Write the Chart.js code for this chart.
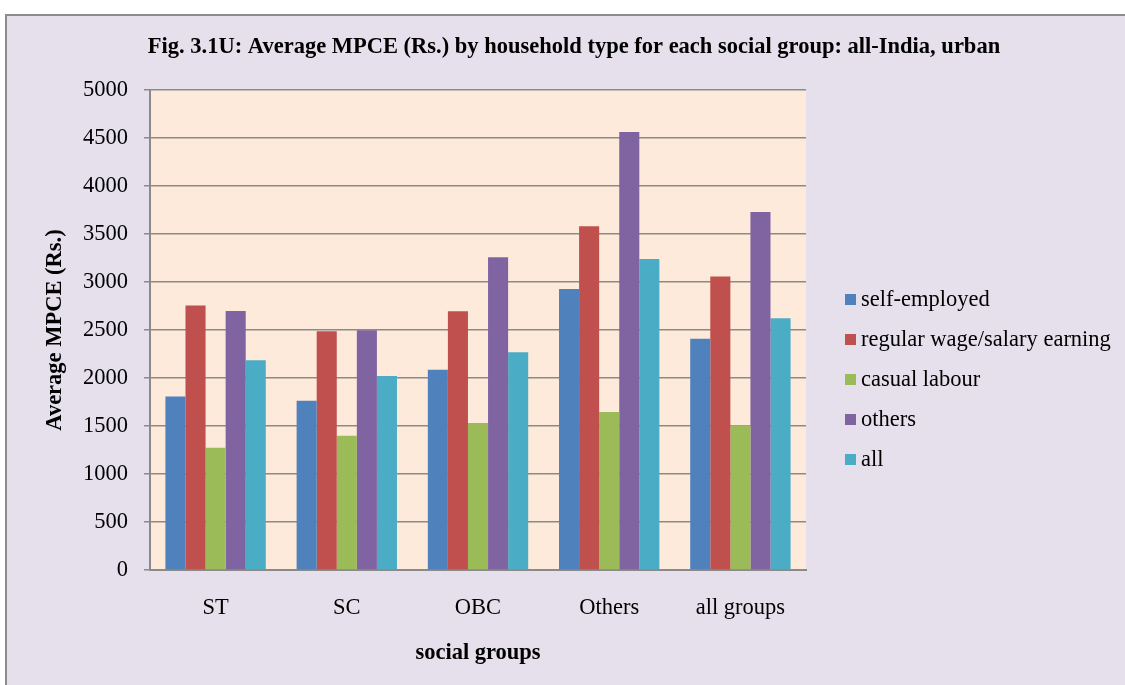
<!DOCTYPE html>
<html>
<head>
<meta charset="utf-8">
<script src="https://cdn.jsdelivr.net/npm/chart.js@4/dist/chart.umd.min.js"></script>
<style>
  html, body { margin: 0; padding: 0; background: #ffffff; }
  #wrap { width: 1125px; height: 685px; position: relative; }
</style>
</head>
<body>
<div id="wrap"><canvas id="c" width="1125" height="685"></canvas></div>
<script>
const chartTitle = 'Fig. 3.1U: Average MPCE (Rs.) by household type for each social group: all-India, urban';
const categories = ['ST', 'SC', 'OBC', 'Others', 'all groups'];
const seriesNames = ['self-employed', 'regular wage/salary earning', 'casual labour', 'others', 'all'];
const selfEmployed = [1807, 1762, 2085, 2928, 2408];
const regularWage = [2754, 2488, 2696, 3581, 3056];
const casualLabour = [1273, 1398, 1530, 1645, 1509];
const othersType = [2699, 2498, 3258, 4562, 3730];
const allTypes = [2186, 2022, 2269, 3240, 2623];
const yTicks = [0, 500, 1000, 1500, 2000, 2500, 3000, 3500, 4000, 4500, 5000];
const xAxisTitle = 'social groups';
const yAxisTitle = 'Average MPCE (Rs.)';

const colors = ['#4F81BD', '#C0504D', '#9BBB59', '#8064A2', '#4BACC6'];
const seriesValues = [selfEmployed, regularWage, casualLabour, othersType, allTypes];
const FONT = "'Liberation Serif', 'Times New Roman', serif";
const FS = 22.5;

const bgPlugin = {
  id: 'bgPlugin',
  beforeDraw(chart) {
    const ctx = chart.ctx;
    const a = chart.chartArea;
    ctx.save();
    ctx.fillStyle = '#ffffff';
    ctx.fillRect(0, 0, chart.width, chart.height);
    ctx.fillStyle = '#E5E0EC';
    ctx.fillRect(6, 15, chart.width - 6, chart.height - 15);
    ctx.strokeStyle = '#8c8c8c';
    ctx.lineWidth = 2;
    ctx.beginPath();
    ctx.moveTo(6, chart.height + 5);
    ctx.lineTo(6, 15);
    ctx.lineTo(chart.width + 5, 15);
    ctx.stroke();
    ctx.fillStyle = '#FDEADA';
    ctx.fillRect(a.left, a.top, a.right - a.left, a.bottom - a.top);
    ctx.restore();
  }
};

const textPlugin = {
  id: 'textPlugin',
  afterDraw(chart) {
    const ctx = chart.ctx;
    ctx.save();
    ctx.fillStyle = '#000000';
    ctx.font = 'bold ' + FS + 'px ' + FONT;
    ctx.textAlign = 'center';
    ctx.textBaseline = 'middle';
    ctx.fillText(chartTitle, 574, 47);
    // legend
    ctx.font = FS + 'px ' + FONT;
    ctx.textAlign = 'left';
    chart.data.datasets.forEach((ds, i) => {
      const cy = 299 + i * 40;
      ctx.fillStyle = ds.backgroundColor;
      ctx.fillRect(845, cy - 5, 11, 11);
      ctx.fillStyle = '#000000';
      ctx.fillText(ds.label, 861, cy + 1);
    });
    ctx.restore();
  }
};

new Chart(document.getElementById('c'), {
  type: 'bar',
  data: {
    labels: categories,
    datasets: seriesNames.map((name, i) => ({
      label: name,
      data: seriesValues[i],
      backgroundColor: colors[i],
      borderWidth: 0,
      categoryPercentage: 0.765,
      barPercentage: 1.0
    }))
  },
  options: {
    responsive: false,
    animation: false,
    devicePixelRatio: 1,
    layout: { padding: { top: 90, right: 319, left: 0, bottom: 0 } },
    plugins: {
      legend: { display: false },
      title: { display: false },
      tooltip: { enabled: false }
    },
    scales: {
      x: {
        grid: { display: false, drawTicks: false },
        border: { display: true, color: '#8a8a8a', width: 2 },
        ticks: { color: '#000', font: { family: FONT, size: FS }, padding: 25, maxRotation: 0 },
        title: { display: true, text: xAxisTitle, color: '#000', font: { family: FONT, size: FS, weight: 'bold' }, padding: { top: 0, bottom: 18 } },
        afterFit(scale) { scale.height = 115; }
      },
      y: {
        min: 0,
        max: 5000,
        afterBuildTicks(scale) { scale.ticks = yTicks.map(v => ({ value: v })); },
        grid: { color: '#8a8a8a', lineWidth: 1.5, tickLength: 6, drawTicks: true },
        border: { display: true, color: '#8a8a8a', width: 2 },
        ticks: { color: '#000', font: { family: FONT, size: FS }, padding: 16, callback: v => String(v) },
        title: { display: true, text: yAxisTitle, color: '#000', font: { family: FONT, size: FS, weight: 'bold' }, padding: { top: 42, bottom: 0 } },
        afterFit(scale) { scale.width = 150; }
      }
    }
  },
  plugins: [bgPlugin, textPlugin]
});
</script>
</body>
</html>
